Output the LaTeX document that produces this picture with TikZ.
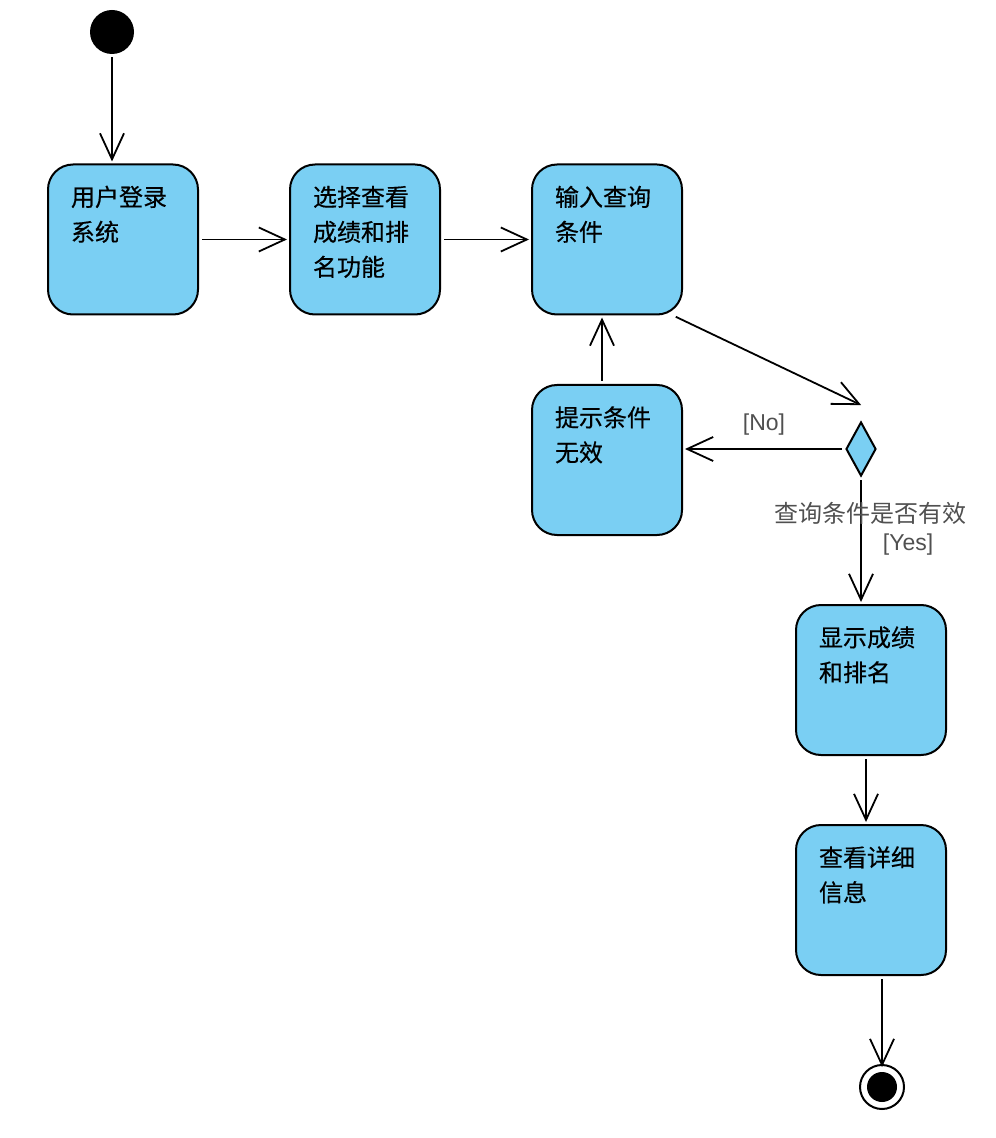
\documentclass[tikz,border=0pt]{standalone}
\usepackage{fontspec}
\setmainfont{Liberation Sans}
\newfontfamily\cjk[FakeBold=0.4]{Noto Sans CJK SC}
\newfontfamily\cjklight{Noto Sans CJK SC}
\usetikzlibrary{shapes.geometric,arrows.meta}
\definecolor{actblue}{RGB}{122,207,243}
\definecolor{guardgray}{RGB}{80,80,80}
\begin{document}
\begin{tikzpicture}[x=0.5pt,y=-0.5pt,
    >={Straight Barb[length=13pt,width=12pt]},
    act/.style={draw,fill=actblue,line width=1pt,rounded corners=12.5pt,
      minimum width=75pt,minimum height=75pt,inner xsep=11.5pt,inner ysep=0pt,
      text width=52pt,align=left,text height=20.75pt,text depth=54.25pt,
      font=\cjk\fontsize{12pt}{17.5pt}\selectfont},
    guard/.style={text=guardgray,font=\fontsize{11.5pt}{14pt}\selectfont,inner sep=1pt}]
  \useasboundingbox (0,0) rectangle (995,1138);
  \draw
    (112,32) node[circle,fill,minimum size=22pt,inner sep=0pt] (0){}
    (123,239.5) node[act] (1){用户登录\\系统}
    (365,239.5) node[act] (2){选择查看\\成绩和排\\名功能}
    (607,239.5) node[act] (3){输入查询\\条件}
    (607,460) node[act] (4){提示条件\\无效}
    (871,680) node[act] (5){显示成绩\\和排名}
    (871,900) node[act] (6){查看详细\\信息}
    (861,449) node[diamond,draw,fill=actblue,line width=1pt,
      minimum width=15pt,minimum height=27pt,inner sep=0pt] (7){}
    (882,1087) node[circle,draw,fill=white,line width=1pt,minimum size=22pt,inner sep=0pt,
      path picture={\fill[black] (path picture bounding box.center) circle[radius=7.5pt];}] (8){};
  \begin{scope}[->,line width=0.9pt,shorten >=1pt,shorten <=1.5pt]
    \draw (0.south) to (0.south |- 1.north);
    \draw (1.east) to (2.west);
    \draw (2.east) to (3.west);
    \draw (3.-49) to ([xshift=1pt,yshift=7.5pt]7.north);
    \draw (7.west) to node[guard,midway,yshift=12pt] (no){[No]} (7.west -| 4.east);
    \draw ([xshift=-2.5pt]4.north) to ([xshift=-2.5pt]3.south);
    \draw (7.south) to
      node[guard,pos=.29,xshift=4.5pt,font=\cjklight\fontsize{12pt}{14pt}\selectfont] (cond){查询条件是否有效}
      node[guard,pos=.53,xshift=23.5pt] (yes){[Yes]} (7.south |- 5.north);
    \draw ([xshift=-2.5pt]5.south) to ([xshift=-2.5pt]6.north);
    \draw[shorten >=-1.5pt] (6.south -| 8) to (8.north);
  \end{scope}
\end{tikzpicture}
\end{document}
